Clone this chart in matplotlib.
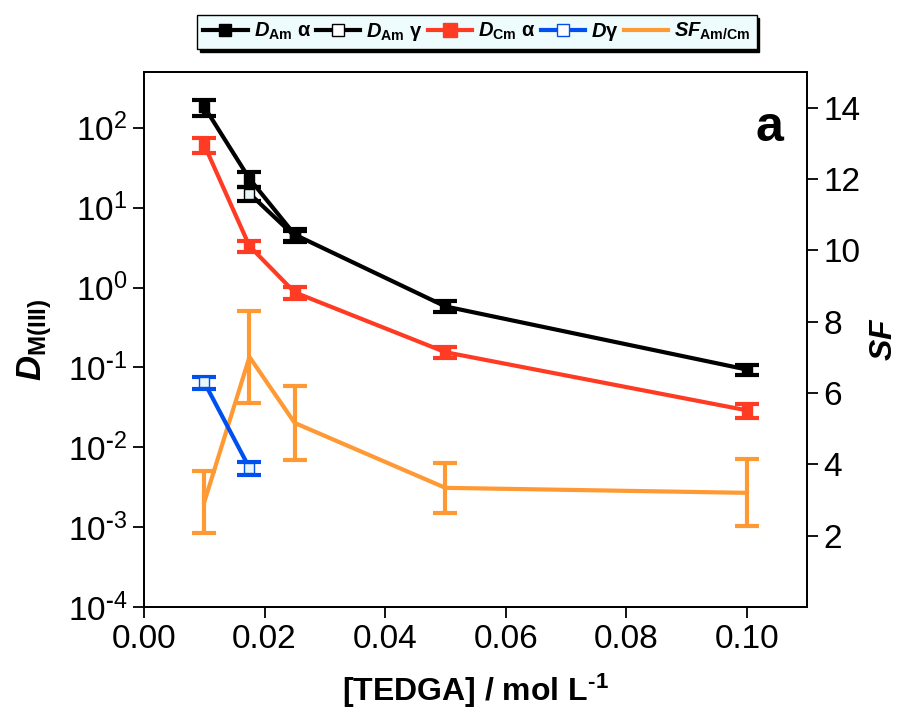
import numpy as np
import matplotlib
matplotlib.use("Agg")
import matplotlib.pyplot as plt
from matplotlib.lines import Line2D

plt.rcParams['font.family'] = ['Liberation Sans', 'DejaVu Sans']
plt.rcParams['mathtext.fontset'] = 'custom'
plt.rcParams['mathtext.it'] = 'Liberation Sans:bold:italic'
plt.rcParams['mathtext.rm'] = 'Liberation Sans:bold'
plt.rcParams['mathtext.bf'] = 'Liberation Sans:bold'
plt.rcParams['mathtext.sf'] = 'Liberation Sans'

# Data
tedga = [0.01, 0.0175, 0.025, 0.05, 0.1]
d_am_alpha = [183, 23, 4.6, 0.58, 0.094]
d_am_alpha_err = [42, 5, 0.8, 0.09, 0.014]
tedga_gamma = [0.0175, 0.025]
d_am_gamma = [15, 4.4]
d_am_gamma_err = [3, 0.7]
d_cm_alpha = [61, 3.3, 0.87, 0.155, 0.029]
d_cm_alpha_err = [13, 0.55, 0.15, 0.025, 0.006]
tedga_dg = [0.01, 0.0175]
d_gamma = [0.065, 0.0055]
d_gamma_err = [0.011, 0.001]
sf = [2.94, 7.01, 5.16, 3.34, 3.2]
sf_err = [0.86, 1.3, 1.03, 0.7, 0.94]
x_ticks = [0.0, 0.02, 0.04, 0.06, 0.08, 0.10]
x_ticklabels = ['0.00', '0.02', '0.04', '0.06', '0.08', '0.10']
sf_ticks = [2, 4, 6, 8, 10, 12, 14]

c_black = '#000000'
c_red = '#ff3b24'
c_blue = '#0050f0'
c_orange = '#ff9933'

fig = plt.figure(figsize=(9, 7.2), dpi=100)
ax = fig.add_axes([0.16, 0.157, 0.7367, 0.743])
ax2 = ax.twinx()
ax.set_zorder(ax2.get_zorder() + 1)
ax.patch.set_visible(False)

lw = 3
cap = 8.3
ms = 7.5
ax.errorbar(tedga, d_am_alpha, yerr=d_am_alpha_err, color=c_black, lw=lw, marker='s',
            ms=ms, mfc=c_black, mec=c_black, capsize=cap, capthick=lw, elinewidth=lw, zorder=5)
ax.errorbar(tedga_gamma, d_am_gamma, yerr=d_am_gamma_err, color=c_black, lw=lw, marker='s',
            ms=ms, mfc='#e8f6f8', mec=c_black, capsize=cap, capthick=lw, elinewidth=lw, zorder=4)
ax.errorbar(tedga, d_cm_alpha, yerr=d_cm_alpha_err, color=c_red, lw=lw, marker='s',
            ms=ms, mfc=c_red, mec=c_red, capsize=cap, capthick=lw, elinewidth=lw, zorder=4)
ax.errorbar(tedga_dg, d_gamma, yerr=d_gamma_err, color=c_blue, lw=lw, marker='s',
            ms=ms, mfc='#e8f6f8', mec=c_blue, capsize=cap, capthick=lw, elinewidth=lw, zorder=4)
ax2.errorbar(tedga, sf, yerr=sf_err, color=c_orange, lw=lw, capsize=cap, capthick=lw,
             elinewidth=lw)

ax.set_yscale('log')
ax.set_ylim(1e-4, 500)
ax.set_xlim(0, 0.11)
ax2.set_ylim(0, 15)
ax.set_xticks(x_ticks)
ax.set_xticklabels(x_ticklabels)
ax.set_yticks([1e-4, 1e-3, 1e-2, 1e-1, 1e0, 1e1, 1e2])
ax.yaxis.set_minor_locator(matplotlib.ticker.NullLocator())
ax2.set_yticks(sf_ticks)

ax.tick_params(axis='both', which='major', labelsize=24, length=8, width=1.3,
               direction='out', pad=4)
ax2.tick_params(axis='y', labelsize=24, length=8, width=1.3, direction='out', pad=4)
for a in (ax, ax2):
    for s in a.spines.values():
        s.set_linewidth(1.3)

ax.yaxis.set_major_formatter(matplotlib.ticker.FuncFormatter(
    lambda v, p: r'10$^{\mathsf{%s}}$' % str(int(round(np.log10(v)))).replace('-', r'\text{-}')))

ax.set_xlabel(r'[TEDGA] / mol L$^{\text{-}\mathrm{1}}$', fontsize=23, fontweight='bold',
              labelpad=12)
ax.set_ylabel(r'$D_{\mathrm{M(III)}}$', fontsize=25, labelpad=10)
ax2.set_ylabel(r'$SF$', fontsize=23, labelpad=6)

ax.text(0.965, 0.895, 'a', transform=ax.transAxes, fontsize=36, fontweight='bold',
        ha='right', va='center')

handles = [
    Line2D([], [], color=c_black, lw=lw, marker='s', ms=8, mfc=c_black, mec=c_black),
    Line2D([], [], color=c_black, lw=lw, marker='s', ms=8, mfc='white', mec=c_black),
    Line2D([], [], color=c_red, lw=lw, marker='s', ms=10, mfc=c_red, mec=c_red),
    Line2D([], [], color=c_blue, lw=lw, marker='s', ms=8, mfc='white', mec=c_blue),
    Line2D([], [], color=c_orange, lw=lw),
]
labels = [r'$D_{\mathrm{Am}}$ α', r'$D_{\mathrm{Am}}$ γ', r'$D_{\mathrm{Cm}}$ α',
          r'$D$γ', r'$SF_{\mathrm{Am/Cm}}$']
leg = ax.legend(handles, labels, loc='center', bbox_to_anchor=(0.502, 1.075), ncol=5,
                frameon=True, fancybox=False, shadow={'color': 'black', 'alpha': 1},
                prop={'weight': 'bold', 'size': 14.5}, handlelength=2.2, handletextpad=0.3,
                columnspacing=0.25, borderpad=0.3, borderaxespad=0)
leg.get_frame().set_facecolor('#eefcfd')
leg.get_frame().set_edgecolor('black')
leg.get_frame().set_linewidth(1.0)
leg.get_frame().set_alpha(1)

fig.savefig('out.png', dpi=100)
